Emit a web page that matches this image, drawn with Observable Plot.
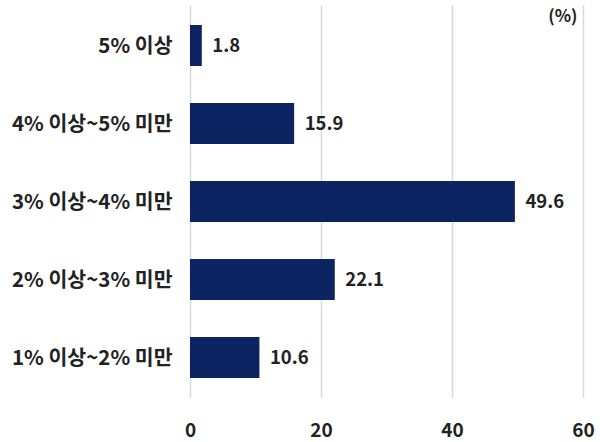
<!DOCTYPE html>
<html>
<head>
<meta charset="utf-8">
<script src="https://cdn.jsdelivr.net/npm/d3@7"></script>
<script src="https://cdn.jsdelivr.net/npm/@observablehq/plot@0.6"></script>
<style>
  html, body { margin: 0; padding: 0; background: #fff; }
  #chart svg { display: block; }
</style>
</head>
<body>
<div id="chart"></div>
<script>
const categories = ["5% 이상", "4% 이상~5% 미만", "3% 이상~4% 미만", "2% 이상~3% 미만", "1% 이상~2% 미만"];
const values = [1.8, 15.9, 49.6, 22.1, 10.6];
const xTicks = [0, 20, 40, 60];
const unitLabel = "(%)";

const data = categories.map((c, i) => ({category: c, value: values[i]}));
const font = "'Noto Sans CJK KR', 'Noto Sans', sans-serif";

const chart = Plot.plot({
  width: 600,
  height: 442,
  marginLeft: 190,
  marginRight: 17,
  marginTop: 5,
  marginBottom: 44,
  style: {fontFamily: font, fontSize: "18px", fontWeight: "bold", color: "#222", background: "#fff"},
  x: {domain: [0, 60], label: null},
  y: {domain: categories, paddingInner: 0.48, paddingOuter: 0.24, label: null},
  marks: [
    Plot.ruleX(xTicks, {stroke: "#d9d9d9", strokeWidth: 1.5}),
    Plot.axisX({ticks: xTicks, tickSize: 0, tickPadding: 25, fontSize: 19, label: null, fill: "#222"}),
    Plot.axisY({tickSize: 0, tickPadding: 18, fontSize: 20.5, label: null, fill: "#222"}),
    Plot.barX(data, {x: "value", y: "category", fill: "#0c2461"}),
    Plot.text(data, {x: "value", y: "category", text: d => d.value.toFixed(1), textAnchor: "start", dx: 10, fill: "#222", fontSize: 18.5, fontWeight: "bold"}),
    Plot.text([unitLabel], {frameAnchor: "top-right", text: d => d, dx: -6, dy: 4, fill: "#222", fontSize: 17, fontWeight: "bold"})
  ]
});
document.getElementById("chart").appendChild(chart);
</script>
</body>
</html>
